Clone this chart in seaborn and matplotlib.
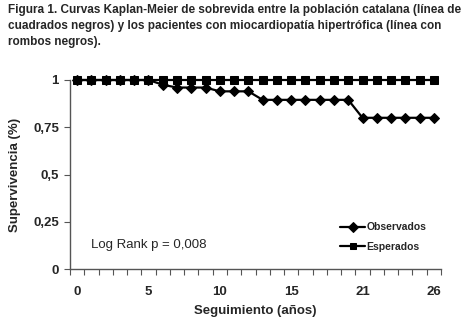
import numpy as np
import pandas as pd
import matplotlib
matplotlib.use("Agg")
import matplotlib.pyplot as plt
import seaborn as sns

# Follow-up years shown on the category axis (one point per category)
years = [0, 1, 2, 3, 4, 5, 6, 7, 8, 9, 10, 11, 12, 13, 14, 15, 16, 17, 18, 19,
         21, 22, 23, 24, 25, 26]
labelled_years = [0, 5, 10, 15, 21, 26]

# Kaplan-Meier survival
observados = [1, 1, 1, 1, 1, 1, 0.975, 0.96, 0.96, 0.96, 0.94, 0.94, 0.94,
              0.895, 0.895, 0.895, 0.895, 0.895, 0.895, 0.895,
              0.80, 0.80, 0.80, 0.80, 0.80, 0.80]
esperados = [1] * 26

y_ticks = [0, 0.25, 0.5, 0.75, 1]
y_labels = ["0", "0,25", "0,5", "0,75", "1"]

sns.set_theme(style="white")
plt.rcParams["font.family"] = ["Liberation Sans", "DejaVu Sans"]

idx = list(range(len(years)))
df = pd.DataFrame({
    "pos": idx * 2,
    "surv": observados + esperados,
    "serie": ["Observados"] * len(idx) + ["Esperados"] * len(idx),
})

fig = plt.figure(figsize=(4.76, 3.31), dpi=100)
ax = fig.add_axes([70 / 476, 1 - 269 / 331, 371 / 476, 189 / 331])

sns.lineplot(data=df, x="pos", y="surv", hue="serie", style="serie",
             palette={"Observados": "black", "Esperados": "black"},
             markers={"Observados": "D", "Esperados": "s"},
             dashes=False, markersize=5.4, linewidth=1.6,
             markeredgecolor="black", ax=ax)
for line in ax.lines:
    line.set_clip_on(False)

ax.set_xlim(-0.5, len(years) - 0.5)
ax.set_ylim(0, 1)

# tick marks between categories, labels every fifth category
ax.set_xticks(np.arange(-0.5, len(years), 1.0))
ax.set_xticklabels([])
ax.set_xticks([years.index(y) for y in labelled_years], minor=True)
ax.set_xticklabels([str(y) for y in labelled_years], minor=True,
                   fontsize=9.5, fontweight="bold")
ax.tick_params(axis="x", which="major", direction="out", length=4, width=0.8,
               color="#555555", bottom=True)
ax.tick_params(axis="x", which="minor", length=0, pad=12)

ax.set_yticks(y_ticks)
ax.set_yticklabels(y_labels, fontsize=9.5, fontweight="bold")
ax.tick_params(axis="y", direction="out", length=4, width=0.8,
               color="#555555", left=True, pad=4)

for side in ["top", "right"]:
    ax.spines[side].set_visible(False)
for side in ["left", "bottom"]:
    ax.spines[side].set_color("#555555")
    ax.spines[side].set_linewidth(1.0)

ax.set_xlabel("Seguimiento (años)", fontsize=9.5, fontweight="bold", labelpad=5)
ax.set_ylabel("Supervivencia (%)", fontsize=9.5, fontweight="bold", labelpad=9)

ax.text(1.0, 0.11, "Log Rank p = 0,008", fontsize=9.5, transform=ax.transData)

leg = ax.legend(loc="lower right", bbox_to_anchor=(0.985, 0.04), frameon=False,
                fontsize=7.5, handlelength=2.4, handletextpad=0.1,
                labelspacing=0.95, markerscale=0.85)
for t in leg.get_texts():
    t.set_fontweight("bold")

fig.text(8 / 476, 1 - 4 / 331,
         "Figura 1. Curvas Kaplan-Meier de sobrevida entre la población catalana (línea de\n"
         "cuadrados negros) y los pacientes con miocardiopatía hipertrófica (línea con\n"
         "rombos negros).",
         fontsize=8.5, fontweight="bold", va="top", ha="left", linespacing=1.45)

fig.savefig("out.png", dpi=100)
